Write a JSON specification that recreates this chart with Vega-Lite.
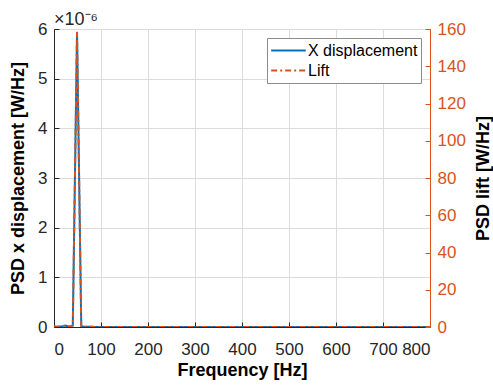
{
  "$schema": "https://vega.github.io/schema/vega-lite/v6.json",
  "width": 376,
  "height": 298,
  "autosize": {"type": "none"},
  "padding": {"left": 54, "top": 29, "right": 63, "bottom": 58},
  "background": "white",
  "config": {
    "font": "Liberation Sans",
    "view": {"stroke": "#262626", "strokeWidth": 1},
    "axis": {
      "labelFontSize": 17,
      "labelColor": "#262626",
      "titleFontSize": 18,
      "titleFontWeight": "bold",
      "titleColor": "#000000",
      "domainColor": "#262626",
      "tickColor": "#262626",
      "gridColor": "#dcdcdc",
      "tickSize": -5,
      "labelPadding": 12
    }
  },
  "title": {
    "text": "×10⁻⁶",
    "anchor": "start",
    "frame": "group",
    "fontSize": 18,
    "fontWeight": "normal",
    "color": "#262626",
    "offset": 5,
    "dy": 14
  },
  "data": {
    "values": [
      {"f": 0, "x": 0.01e-6, "lift": 0.3},
      {"f": 8, "x": 0.005e-6, "lift": 0.15},
      {"f": 16, "x": 0.01e-6, "lift": 0.3},
      {"f": 24, "x": 0.03e-6, "lift": 0.8},
      {"f": 32, "x": 0.005e-6, "lift": 0.15},
      {"f": 40, "x": 0.03e-6, "lift": 0.8},
      {"f": 49, "x": 5.93e-6, "lift": 158.5},
      {"f": 58, "x": 0.01e-6, "lift": 0.3},
      {"f": 66, "x": 0.005e-6, "lift": 0.1},
      {"f": 100, "x": 0.0, "lift": 0.0},
      {"f": 200, "x": 0.0, "lift": 0.0},
      {"f": 300, "x": 0.0, "lift": 0.0},
      {"f": 400, "x": 0.0, "lift": 0.0},
      {"f": 500, "x": 0.0, "lift": 0.0},
      {"f": 600, "x": 0.0, "lift": 0.0},
      {"f": 700, "x": 0.0, "lift": 0.0},
      {"f": 800, "x": 0.0, "lift": 0.0}
    ]
  },
  "layer": [
    {
      "mark": {"type": "line", "strokeWidth": 2, "clip": true},
      "encoding": {
        "x": {
          "field": "f", "type": "quantitative",
          "scale": {"domain": [0, 800], "nice": false},
          "axis": {"values": [0,100,200,300,400,500,600,700,800], "title": "Frequency [Hz]", "grid": true, "labelPadding": 19, "titlePadding": 4}
        },
        "y": {
          "field": "x", "type": "quantitative",
          "scale": {"domain": [0, 0.000006], "nice": false},
          "axis": {
            "values": [0, 0.000001, 0.000002, 0.000003, 0.000004, 0.000005, 0.000006],
            "labelExpr": "format(round(datum.value*1e6), 'd')",
            "title": "PSD x displacement [W/Hz]",
            "grid": true,
            "titlePadding": 10
          }
        },
        "color": {
          "datum": "X displacement",
          "scale": {"domain": ["X displacement", "Lift"], "range": ["#0072BD", "#D95319"]},
          "legend": {
            "title": null,
            "orient": "top-right",
            "offset": 9,
            "fillColor": "white",
            "strokeColor": "#8c8c8c",
            "padding": 3,
            "labelFontSize": 16,
            "labelColor": "#000000",
            "symbolType": "stroke",
            "symbolSize": 1200,
            "symbolStrokeWidth": 2,
            "clipHeight": 19,
            "rowPadding": 1,
            "labelOffset": 1
          }
        },
        "strokeDash": {
          "datum": "X displacement",
          "scale": {"domain": ["X displacement", "Lift"], "range": [[1, 0], [6, 3, 2, 3]]},
          "legend": null
        }
      }
    },
    {
      "mark": {"type": "line", "strokeWidth": 2, "clip": true},
      "encoding": {
        "x": {"field": "f", "type": "quantitative"},
        "y": {
          "field": "lift", "type": "quantitative",
          "scale": {"domain": [0, 160], "nice": false},
          "axis": {
            "orient": "right",
            "values": [0, 20, 40, 60, 80, 100, 120, 140, 160],
            "title": "PSD lift [W/Hz]",
            "titleAngle": 270,
            "grid": false,
            "domainColor": "#D95319",
            "tickColor": "#D95319",
            "labelColor": "#D95319",
            "titlePadding": 27
          }
        },
        "color": {"datum": "Lift"},
        "strokeDash": {"datum": "Lift"}
      }
    }
  ],
  "resolve": {"scale": {"y": "independent"}}
}
